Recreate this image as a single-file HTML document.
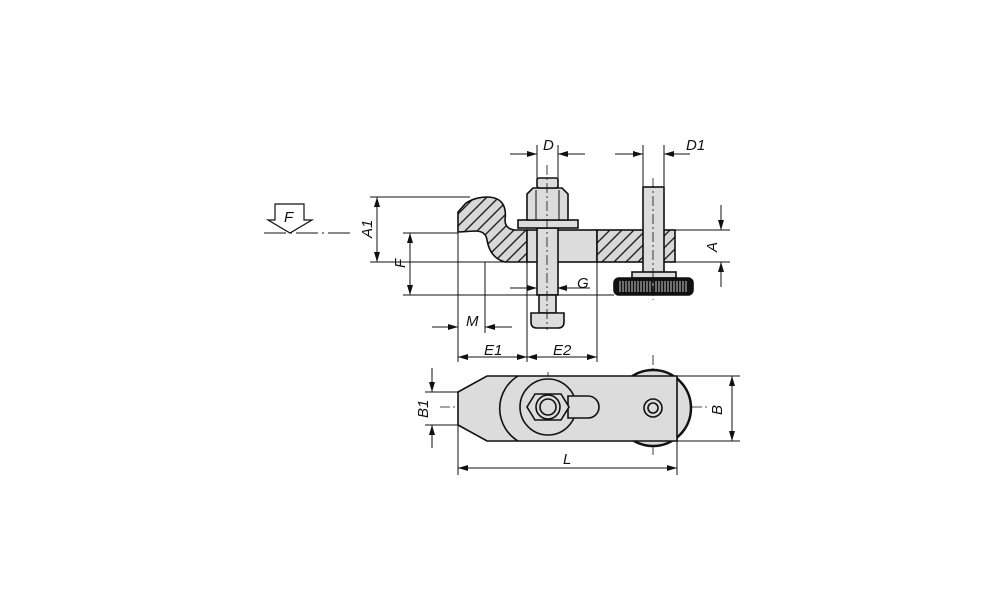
<!DOCTYPE html>
<html><head><style>body{margin:0;background:#fff}svg{display:block}text{font-family:"Liberation Sans",sans-serif;font-style:italic;font-size:15px;fill:#111}</style></head>
<body>
<svg width="1000" height="611" viewBox="0 0 1000 611" xmlns="http://www.w3.org/2000/svg">
<defs>
<pattern id="h" patternUnits="userSpaceOnUse" width="12" height="12">
<rect width="12" height="12" fill="#d8d8d8"/><path d="M-3,3 L3,-3 M0,12 L12,0 M9,15 L15,9" stroke="#222" stroke-width="1.4"/>
</pattern>
<marker id="a" viewBox="0 0 10 6" refX="10" refY="3" markerWidth="10" markerHeight="6" orient="auto-start-reverse" markerUnits="userSpaceOnUse"><path d="M0,0 L10,3 L0,6 Z" fill="#111"/></marker>
</defs>
<g stroke="#111" fill="none" stroke-width="1">
<line x1="370" y1="197" x2="470" y2="197"/>
<line x1="403" y1="233" x2="458" y2="233"/>
<line x1="370" y1="262" x2="527" y2="262"/>
<line x1="675" y1="262" x2="730" y2="262"/>
<line x1="675" y1="230" x2="730" y2="230"/>
<line x1="403" y1="295" x2="614" y2="295"/>
<line x1="458" y1="233" x2="458" y2="362"/>
<line x1="485" y1="262" x2="485" y2="333"/>
<line x1="527" y1="262" x2="527" y2="362"/>
<line x1="597" y1="262" x2="597" y2="362"/>
<line x1="537" y1="145" x2="537" y2="180"/>
<line x1="558" y1="145" x2="558" y2="180"/>
<line x1="643" y1="145" x2="643" y2="186"/>
<line x1="664" y1="145" x2="664" y2="186"/>
<line x1="377" y1="197" x2="377" y2="262" marker-start="url(#a)" marker-end="url(#a)"/>
<line x1="410" y1="233" x2="410" y2="295" marker-start="url(#a)" marker-end="url(#a)"/>
<line x1="721" y1="205" x2="721" y2="230" marker-end="url(#a)"/>
<line x1="721" y1="287" x2="721" y2="262" marker-end="url(#a)"/>
<line x1="510" y1="154" x2="537" y2="154" marker-end="url(#a)"/>
<line x1="585" y1="154" x2="558" y2="154" marker-end="url(#a)"/>
<line x1="615" y1="154" x2="643" y2="154" marker-end="url(#a)"/>
<line x1="690" y1="154" x2="664" y2="154" marker-end="url(#a)"/>
<line x1="510" y1="288" x2="537" y2="288" marker-end="url(#a)"/>
<line x1="590" y1="288" x2="557" y2="288" marker-end="url(#a)"/>
<line x1="432" y1="327" x2="458" y2="327" marker-end="url(#a)"/>
<line x1="512" y1="327" x2="485" y2="327" marker-end="url(#a)"/>
<line x1="458" y1="357" x2="527" y2="357" marker-start="url(#a)" marker-end="url(#a)"/>
<line x1="527" y1="357" x2="597" y2="357" marker-start="url(#a)" marker-end="url(#a)"/>
<path d="M275,204 H304 V220 H312 L290,233 L268,220 H275 Z" stroke-width="1.2"/>
<path d="M264,233 H350" stroke-dasharray="22,4,2,4"/>
</g>
<g stroke="#111" stroke-width="1.6">
<path d="M458,232 L458,212 L466,203 Q475,197 488,197 Q508,198 505,220 Q505,229 515,230 L527,230 L527,262 L505,262 Q490,258 487,240 Q486,231 475,231 Z" fill="url(#h)"/>
<rect x="527" y="230" width="70" height="32" fill="#dcdcdc"/>
<rect x="597" y="230" width="78" height="32" fill="url(#h)"/>
<rect x="537" y="228" width="21" height="67" fill="#dcdcdc"/>
<rect x="539" y="295" width="17" height="18" fill="#dcdcdc"/>
<path d="M531,313 H564 V322 Q564,328 558,328 H537 Q531,328 531,322 Z" fill="#dcdcdc"/>
<rect x="518" y="220" width="60" height="8" fill="#dcdcdc"/>
<path d="M527,220 V194 L533,188 H562 L568,194 V220 Z" fill="#dcdcdc"/>
<line x1="536" y1="190" x2="536" y2="220" stroke-width="1"/><line x1="559" y1="190" x2="559" y2="220" stroke-width="1"/>
<rect x="537" y="178" width="21" height="10" rx="2" fill="#dcdcdc"/>
<rect x="643" y="187" width="21" height="88" fill="#dcdcdc"/>
<rect x="632" y="272" width="44" height="6" fill="#dcdcdc"/>
<rect x="614" y="278" width="79" height="17" rx="5" fill="#111"/>
</g>
<g stroke="#ccc" stroke-width="1">
<path d="M620,281 V292 M623,281 V292 M626,281 V292 M629,281 V292 M632,281 V292 M635,281 V292 M638,281 V292 M641,281 V292 M644,281 V292 M647,281 V292 M650,281 V292 M653,281 V292 M656,281 V292 M659,281 V292 M662,281 V292 M665,281 V292 M668,281 V292 M671,281 V292 M674,281 V292 M677,281 V292 M680,281 V292 M683,281 V292 M686,281 V292"/>
</g>
<g stroke="#111" stroke-width="0.8" stroke-dasharray="10,3,2,3" fill="none">
<line x1="547" y1="165" x2="547" y2="330"/>
<line x1="653" y1="178" x2="653" y2="300"/>
<line x1="440" y1="407" x2="710" y2="407"/>
<line x1="548" y1="372" x2="548" y2="440"/>
<line x1="653" y1="355" x2="653" y2="455"/>
</g>
<g stroke="#111" fill="none" stroke-width="1">
<line x1="425" y1="392" x2="458" y2="392"/><line x1="425" y1="425" x2="458" y2="425"/>
<line x1="432" y1="368" x2="432" y2="392" marker-end="url(#a)"/>
<line x1="432" y1="448" x2="432" y2="425" marker-end="url(#a)"/>
<line x1="677" y1="376" x2="740" y2="376"/><line x1="677" y1="441" x2="740" y2="441"/>
<line x1="732" y1="376" x2="732" y2="441" marker-start="url(#a)" marker-end="url(#a)"/>
<line x1="458" y1="425" x2="458" y2="475"/><line x1="677" y1="441" x2="677" y2="475"/>
<line x1="458" y1="468" x2="677" y2="468" marker-start="url(#a)" marker-end="url(#a)"/>
</g>
<g stroke="#111" stroke-width="1.6">
<circle cx="653" cy="408" r="38" fill="#dcdcdc" stroke-width="2.5"/>
<path d="M458,425 V392 L487,376 H677 V441 H487 Z" fill="#dcdcdc"/>
<path d="M518,376 A38,38 0 0 0 518,441" fill="none"/>
<circle cx="548" cy="407" r="28" fill="#dcdcdc"/>
<path d="M568,396 H588 A11,11 0 0 1 588,418 H568 Z" fill="#dcdcdc"/>
<path d="M535,394 H561 L569,407 L561,420 H535 L527,407 Z" fill="#dcdcdc"/>
<circle cx="548" cy="407" r="12" fill="#dcdcdc"/>
<circle cx="548" cy="407" r="8" fill="#dcdcdc"/>
<circle cx="653" cy="408" r="9" fill="#dcdcdc"/>
<circle cx="653" cy="408" r="5" fill="#dcdcdc"/>
</g>
<text x="543" y="150">D</text>
<text x="686" y="150">D1</text>
<text x="577" y="288">G</text>
<text x="466" y="326">M</text>
<text x="484" y="355">E1</text>
<text x="553" y="355">E2</text>
<text x="563" y="464">L</text>
<text transform="translate(372,238) rotate(-90)">A1</text>
<text transform="translate(405,268) rotate(-90)">F</text>
<text transform="translate(717,252) rotate(-90)">A</text>
<text transform="translate(428,418) rotate(-90)">B1</text>
<text transform="translate(722,415) rotate(-90)">B</text>
<text x="284" y="222">F</text>
</svg>
</body></html>
